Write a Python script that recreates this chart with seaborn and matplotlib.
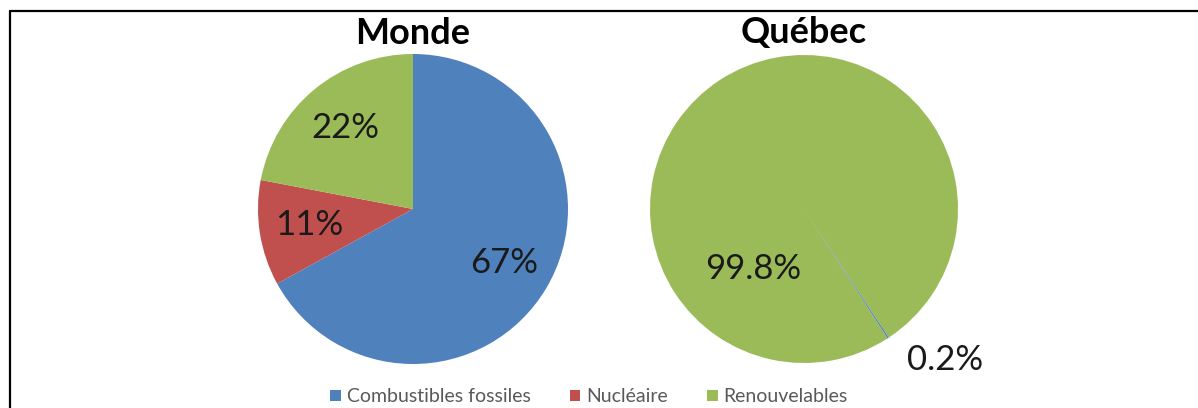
import numpy as np
import pandas as pd
import matplotlib
matplotlib.use("Agg")
import matplotlib.pyplot as plt
from matplotlib.lines import Line2D
import seaborn as sns

# ---- data ----
categories = ["Combustibles fossiles", "Nucléaire", "Renouvelables"]
monde_values = [67, 11, 22]
quebec_values = [0.2, 0.0, 99.8]
monde_labels = ["67%", "11%", "22%"]
quebec_labels = ["0.2%", None, "99.8%"]
titles = ["Monde", "Québec"]

sns.set_theme(style="white")
plt.rcParams["font.family"] = ["Lato", "DejaVu Sans"]

colors = ["#4F81BD", "#C0504D", "#9BBB59"]

W, H = 1198, 408
fig = plt.figure(figsize=(W / 100, H / 100), dpi=100)
fig.patch.set_facecolor("white")


def add_pie_axes(cx, cy, r):
    return fig.add_axes([(cx - r) / W, 1 - (cy + r) / H, 2 * r / W, 2 * r / H])


# Monde
ax1 = add_pie_axes(413, 209, 155)
wedges1, _, autotexts1 = ax1.pie(
    monde_values, colors=colors, startangle=90, counterclock=False,
    autopct=lambda p: f"{p:.0f}%", pctdistance=0.68,
    wedgeprops=dict(linewidth=0), textprops=dict(fontsize=25, color="#1a1a1a"))
ax1.set_xlim(-1, 1)
ax1.set_ylim(-1, 1)
ax1.set_aspect("equal")
ax1.axis("off")

# Québec
ax2 = add_pie_axes(804, 209, 154)
wedges2, _ = ax2.pie(
    quebec_values, colors=colors, startangle=-56.5, counterclock=False,
    wedgeprops=dict(linewidth=0))
wedges2[0].set_edgecolor("#a3b4c4")
wedges2[0].set_linewidth(0.5)
ax2.set_xlim(-1, 1)
ax2.set_ylim(-1, 1)
ax2.set_aspect("equal")
ax2.axis("off")

# Québec label placement (angle in degrees, radius in pie units)
q_label_pos = {0: (-46.9, 1.34), 2: (-130.0, 0.51)}
for i, (ang, rad) in q_label_pos.items():
    a = np.deg2rad(ang)
    ax2.text(rad * np.cos(a), rad * np.sin(a), quebec_labels[i],
             ha="center", va="center", fontsize=25, color="#1a1a1a",
             clip_on=False)

# titles
for cx, t in zip([413, 804], titles):
    fig.text(cx / W, 1 - 33 / H, t, ha="center", va="center",
             fontsize=26, fontweight="bold", color="black")

# legend
leg = fig.legend(handles=wedges1, labels=categories, loc="center",
                 bbox_to_anchor=(589 / W, 1 - 397 / H), ncol=3, frameon=False,
                 fontsize=14, handlelength=0.55, handleheight=0.55,
                 handletextpad=0.3, columnspacing=2.0, borderpad=0.1)
for txt in leg.get_texts():
    txt.set_color("#595959")

# frame lines (top and left)
fig.add_artist(Line2D([9.5 / W, 1.0], [1 - 10.5 / H, 1 - 10.5 / H],
                      transform=fig.transFigure, color="black", linewidth=1.6))
fig.add_artist(Line2D([9.5 / W, 9.5 / W], [0.0, 1 - 10.5 / H],
                      transform=fig.transFigure, color="black", linewidth=1.6))

fig.savefig("out.png", dpi=100, facecolor="white")
